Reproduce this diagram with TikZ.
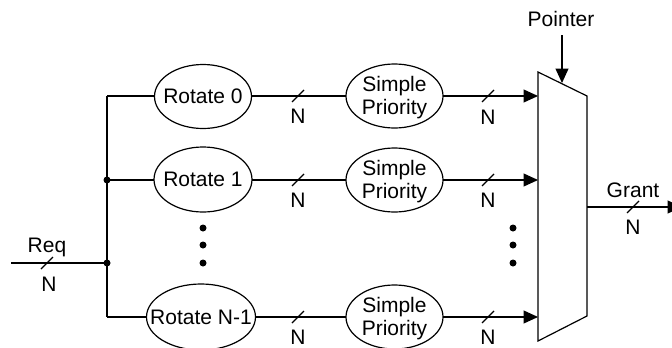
\documentclass[tikz,border=0pt]{standalone}
\usepackage{fontspec}
\setmainfont{Liberation Sans}
\usetikzlibrary{arrows.meta,calc}

\tikzset{
  wire/.style={line width=1.2pt},
  sig/.style={wire,-{Triangle[length=14.5pt,width=13pt]}},
  lbl/.style={inner sep=0pt,font=\fontsize{21}{23.5}\selectfont},
  blocktext/.style={lbl,align=center},
  dotmark/.style={circle,fill=black,inner sep=0pt,minimum size=7pt},
}
% bus-width slash drawn across a wire at the given point
\newcommand\busslash[1]{\draw[wire] ($(#1)+(-6,6)$) -- ($(#1)+(6,-6)$);}
% elliptic block: name, centre of ellipse, x radius, y radius, text offset, text
\newcommand\ellblock[6]{%
  \coordinate (#1-c) at (#2);
  \node[blocktext] (#1) at ($(#1-c)+(0,#5)$) {#6};
  \draw[wire] (#1-c) ellipse [x radius=#3pt, y radius=#4pt];
  \coordinate (#1-w) at ($(#1-c)+(-#3,0)$);
  \coordinate (#1-e) at ($(#1-c)+(#3,0)$);
}

\begin{document}
\begin{tikzpicture}[x=1pt,y=-1pt]
\useasboundingbox (0,0) rectangle (672,348);

% request input and its fan-out
\coordinate (reqin) at (11,263);
\node[dotmark] (jreq) at (107,263) {};
\node[dotmark] (j1) at (107,180) {};
\coordinate (ctop) at (107,96);
\coordinate (cbot) at (107,317);

% rotators and priority encoders
\ellblock{rot0}{203,96.5}{48.5}{32}{0}{Rotate 0}
\ellblock{rot1}{203,179.5}{49}{32.5}{0}{Rotate 1}
\ellblock{rotn}{201,317}{54.5}{33}{0}{Rotate N-1}
\ellblock{sp0}{394.5,96}{48.5}{32}{1.5}{Simple\\Priority}
\ellblock{sp1}{394.5,180}{48.5}{32}{1.5}{Simple\\Priority}
\ellblock{spn}{394.5,317}{48.5}{32}{1.5}{Simple\\Priority}

% multiplexer outline
\coordinate (ma) at (538,72);
\coordinate (mb) at (587,96);
\coordinate (mc) at (587,316);
\coordinate (md) at (538,341);
\draw[wire] (ma) -- (mb) -- (mc) -- (md) -- cycle;
\coordinate (in0) at (538,96);
\coordinate (in1) at (538,180);
\coordinate (inn) at (538,317);
\coordinate (mout) at (587,207);
\coordinate (ptr) at (562,83);
\coordinate (ptrsrc) at (562,35);
\coordinate (gnt) at (682,207);

% wiring
\draw[wire] (reqin) -- (jreq.center);
\draw[wire] (ctop) -- (cbot);
\draw[wire] (ctop) -- (ctop -| rot0-w);
\draw[wire] (j1.center) -- (j1 -| rot1-w);
\draw[wire] (cbot) -- (rotn-w);
\draw[wire] (rot0-e |- sp0-w) -- (sp0-w);
\draw[wire] (rot1-e |- sp1-w) -- (sp1-w);
\draw[wire] (rotn-e) -- (spn-w);
\draw[sig] (sp0-e) -- (in0);
\draw[sig] (sp1-e) -- (in1);
\draw[sig] (spn-e) -- (inn);
\draw[sig] (ptrsrc) -- (ptr);
\draw[sig] (mout) -- (gnt);

% bus width marks
\busslash{47,263}
\busslash{298,96}
\busslash{298,180}
\busslash{298,317}
\busslash{488,96}
\busslash{488,180}
\busslash{488,317}
\busslash{633,207}
\node[lbl] (n0) at (49,284) {N};
\node[lbl] (n1) at (298,116) {N};
\node[lbl] (n2) at (298,200) {N};
\node[lbl] (n3) at (298,337) {N};
\node[lbl] (n4) at (488,117) {N};
\node[lbl] (n5) at (488,200) {N};
\node[lbl] (n6) at (488,337) {N};
\node[lbl] (n7) at (633,227) {N};

% signal names
\node[lbl,anchor=base] (req) at (47,252) {Req};
\node[lbl,anchor=base] (grant) at (633,197) {Grant};
\node[lbl,anchor=base] (pointer) at (561,26) {Pointer};

% ellipsis dots
\foreach \yy [count=\i] in {228,245,263} {
  \node[dotmark] (ldot\i) at (203,\yy) {};
  \node[dotmark] (rdot\i) at (513,\yy) {};
}
\end{tikzpicture}
\end{document}
